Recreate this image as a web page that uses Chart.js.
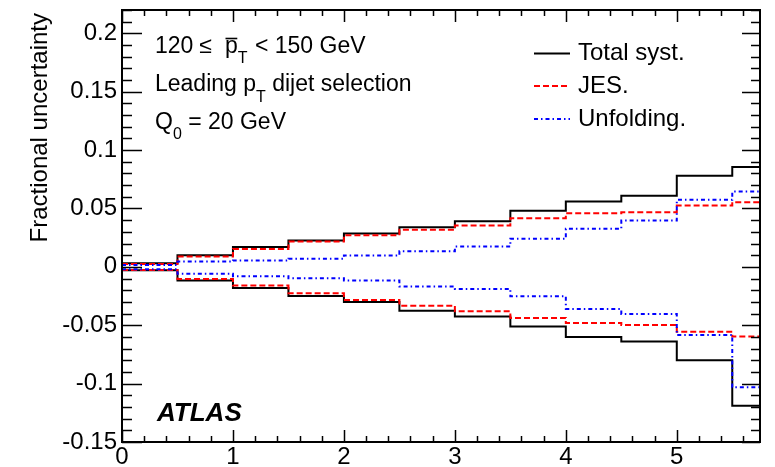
<!DOCTYPE html>
<html>
<head>
<meta charset="utf-8">
<script src="https://cdn.jsdelivr.net/npm/chart.js@4"></script>
<style>
  html, body { margin: 0; padding: 0; background: #fff; }
  canvas { display: block; }
</style>
</head>
<body>
<canvas id="systChart" width="775" height="467"></canvas>
<script>
// bin edges along x, one value per bin for each curve
const binEdges = [0, 0.5, 1, 1.5, 2, 2.5, 3, 3.5, 4, 4.5, 5, 5.5, 5.75];

const totalUp   = [0.003, 0.010, 0.017, 0.0225, 0.0285, 0.034, 0.039, 0.048, 0.056, 0.061, 0.078, 0.0855];
const totalDown = [-0.003, -0.0117, -0.018, -0.025, -0.030, -0.0375, -0.0426, -0.051, -0.060, -0.064, -0.080, -0.119];
const jesUp     = [0.0025, 0.0088, 0.0154, 0.0217, 0.027, 0.0317, 0.0354, 0.0417, 0.046, 0.0468, 0.0525, 0.0554];
const jesDown   = [-0.0026, -0.0103, -0.016, -0.0226, -0.0283, -0.0332, -0.038, -0.0437, -0.048, -0.0497, -0.0555, -0.0597];
const unfUp     = [0.0017, 0.0045, 0.0054, 0.0069, 0.0097, 0.0134, 0.0174, 0.024, 0.0326, 0.0397, 0.0574, 0.0645];
const unfDown   = [-0.002, -0.006, -0.008, -0.0098, -0.0117, -0.0169, -0.0189, -0.0252, -0.036, -0.0403, -0.0583, -0.1032];

const xTickValues = [0, 1, 2, 3, 4, 5];
const xTickLabels = ["0", "1", "2", "3", "4", "5"];
const yTickValues = [-0.15, -0.1, -0.05, 0, 0.05, 0.1, 0.15, 0.2];
const yTickLabels = ["-0.15", "-0.1", "-0.05", "0", "0.05", "0.1", "0.15", "0.2"];

const FONT = '"Liberation Sans", Arial, Helvetica, sans-serif';

const styles = {
  total: { label: "Total syst.", color: "#000000", dash: [] },
  jes:   { label: "JES.",        color: "#ff0000", dash: [6, 3] },
  unf:   { label: "Unfolding.",  color: "#0000ff", dash: [4, 3, 1.5, 3] }
};

// histogram outline: each bin value holds from its left edge to the next edge
function histPoints(values) {
  return binEdges.map((x, i) => ({ x: x, y: values[Math.min(i, values.length - 1)] }));
}

function histDataset(style, values) {
  return {
    label: style.label,
    data: histPoints(values),
    borderColor: style.color,
    borderDash: style.dash,
    borderWidth: 2,
    stepped: 'before',
    pointRadius: 0,
    fill: false
  };
}

// frame, inward ticks, text and legend drawn on top of the plot
const decorations = {
  id: 'decorations',
  afterDraw(chart) {
    const ctx = chart.ctx;
    const xs = chart.scales.x, ys = chart.scales.y;
    const { left, right, top, bottom } = chart.chartArea;
    ctx.save();
    ctx.strokeStyle = '#000';
    ctx.lineWidth = 1.5;
    ctx.beginPath();
    for (let i = 0; i * 0.2 <= 5.75 + 1e-9; i++) {
      const px = Math.round(xs.getPixelForValue(i * 0.2)) + 0.5;
      const len = i % 5 === 0 ? 12 : 6;
      ctx.moveTo(px, bottom); ctx.lineTo(px, bottom - len);
      ctx.moveTo(px, top); ctx.lineTo(px, top + len);
    }
    for (let i = -15; i <= 22; i++) {
      const py = Math.round(ys.getPixelForValue(i / 100)) + 0.5;
      const major = i % 5 === 0;
      ctx.moveTo(left, py); ctx.lineTo(left + (major ? 20 : 10), py);
      ctx.moveTo(right, py); ctx.lineTo(right - (major ? 18 : 9), py);
    }
    ctx.stroke();
    ctx.lineWidth = 2;
    ctx.strokeRect(left, top, right - left, bottom - top);

    // axis title
    ctx.fillStyle = '#000';
    ctx.save();
    ctx.translate(47, 13);
    ctx.rotate(-Math.PI / 2);
    ctx.font = '24px ' + FONT;
    ctx.textAlign = 'right';
    ctx.textBaseline = 'alphabetic';
    ctx.fillText('Fractional uncertainty', 0, 0);
    ctx.restore();

    // selection text
    ctx.textAlign = 'left';
    ctx.textBaseline = 'alphabetic';
    const main = '23px ' + FONT, sub = '16px ' + FONT;
    let x = 155;
    ctx.font = main;
    ctx.fillText('120', x, 53); x += ctx.measureText('120').width + 6;
    ctx.fillText('\u2264', x, 53); x += ctx.measureText('\u2264').width + 13;
    const pw = ctx.measureText('p').width;
    ctx.fillText('p', x, 53);
    ctx.lineWidth = 1.6;
    ctx.beginPath(); ctx.moveTo(x + 0.5, 38.5); ctx.lineTo(x + pw - 0.5, 38.5); ctx.stroke();
    x += pw;
    ctx.font = sub; ctx.fillText('T', x, 63); x += ctx.measureText('T').width + 1;
    ctx.font = main; ctx.fillText(' < 150 GeV', x, 53);

    x = 155;
    ctx.fillText('Leading p', x, 90.7); x += ctx.measureText('Leading p').width;
    ctx.font = sub; ctx.fillText('T', x, 102); x += ctx.measureText('T').width;
    ctx.font = main; ctx.fillText(' dijet selection', x, 90.7);

    x = 155;
    ctx.fillText('Q', x, 129); x += ctx.measureText('Q').width;
    ctx.font = sub; ctx.fillText('0', x, 138.5); x += ctx.measureText('0').width;
    ctx.font = main; ctx.fillText(' = 20 GeV', x, 129);

    // legend
    const rows = [[styles.total, 53.5, 60], [styles.jes, 86, 93.3], [styles.unf, 119, 126]];
    ctx.font = '24px ' + FONT;
    rows.forEach(([s, ly, by]) => {
      ctx.strokeStyle = s.color;
      ctx.lineWidth = 2;
      ctx.setLineDash(s.dash);
      ctx.beginPath(); ctx.moveTo(534, ly); ctx.lineTo(570, ly); ctx.stroke();
      ctx.setLineDash([]);
      ctx.fillStyle = '#000';
      ctx.fillText(s.label, 578, by);
    });

    ctx.font = 'italic bold 26px ' + FONT;
    ctx.fillText('ATLAS', 157, 421);
    ctx.restore();
  }
};

const ctx = document.getElementById('systChart').getContext('2d');
new Chart(ctx, {
  type: 'line',
  data: {
    datasets: [
      histDataset(styles.unf, unfUp),
      histDataset(styles.unf, unfDown),
      histDataset(styles.jes, jesUp),
      histDataset(styles.jes, jesDown),
      histDataset(styles.total, totalUp),
      histDataset(styles.total, totalDown)
    ]
  },
  options: {
    responsive: false,
    animation: false,
    layout: { padding: { top: 10, right: 15, bottom: 0, left: 0 } },
    plugins: {
      legend: { display: false },
      tooltip: { enabled: false }
    },
    scales: {
      x: {
        type: 'linear',
        min: 0,
        max: 5.75,
        grid: { display: false, drawTicks: false },
        border: { display: false },
        afterBuildTicks(scale) {
          scale.ticks = xTickValues.map(v => ({ value: v }));
        },
        ticks: {
          autoSkip: false,
          maxRotation: 0,
          padding: 1,
          color: '#000',
          font: { family: FONT, size: 24 },
          callback: (v, i) => xTickLabels[i]
        },
        afterFit(scale) {
          scale.height = 25;
          scale.paddingLeft = 0;
          scale.paddingRight = 0;
        }
      },
      y: {
        type: 'linear',
        min: -0.15,
        max: 0.22,
        grid: { display: false, drawTicks: false },
        border: { display: false },
        afterBuildTicks(scale) {
          scale.ticks = yTickValues.map(v => ({ value: v }));
        },
        ticks: {
          autoSkip: false,
          padding: 5,
          color: '#000',
          font: { family: FONT, size: 24 },
          callback: (v, i) => yTickLabels[i]
        },
        afterFit(scale) {
          scale.width = 122;
          scale.paddingTop = 0;
          scale.paddingBottom = 0;
        }
      }
    }
  },
  plugins: [decorations]
});
</script>
</body>
</html>
